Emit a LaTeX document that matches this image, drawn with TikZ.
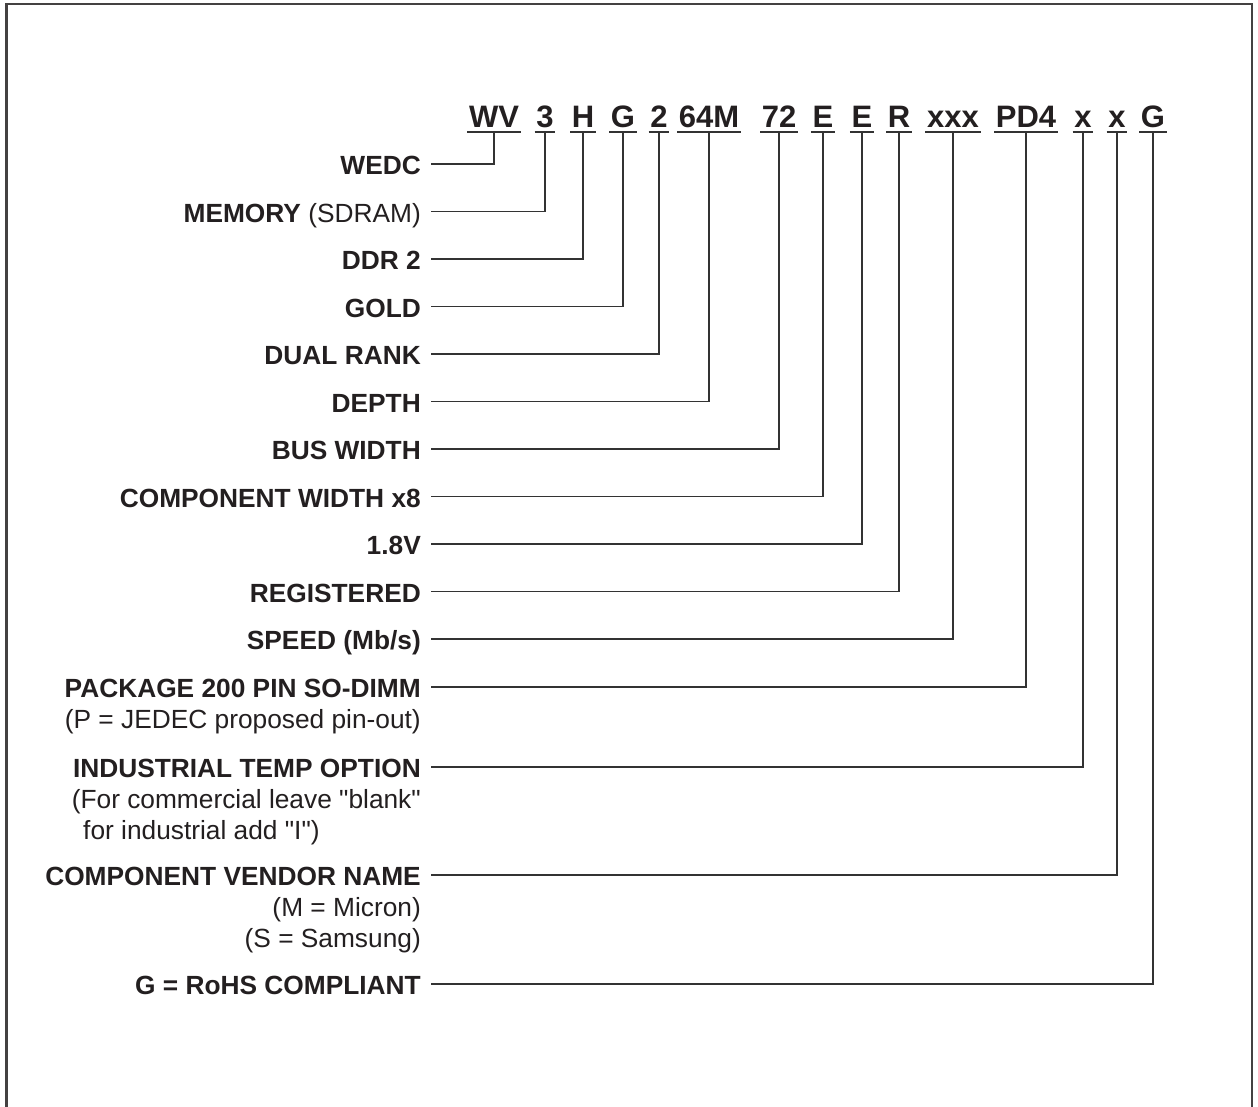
\documentclass[tikz,border=0pt]{standalone}
\usepackage{fontspec}
\setmainfont{Liberation Sans}
\definecolor{ink}{HTML}{231F20}
\definecolor{wirec}{HTML}{333333}
\begin{document}
\begin{tikzpicture}[x=1pt,y=-1pt,
  code/.style={anchor=base, inner xsep=1.5pt, inner ysep=0pt, font=\fontsize{31}{36}\selectfont\bfseries, text=ink},
  lab/.style={anchor=base east, inner sep=0pt, font=\fontsize{26.3}{31}\selectfont\bfseries, text=ink},
  sub/.style={anchor=base east, inner sep=0pt, font=\fontsize{26.3}{31}\selectfont, text=ink},
  subw/.style={anchor=base west, inner sep=0pt, font=\fontsize{26.3}{31}\selectfont, text=ink},
  wire/.style={draw=wirec, line width=1.5pt},
  uline/.style={draw=wirec, line width=1.6pt},
  frame/.style={draw=ink!85, line width=2.2pt}]
\useasboundingbox (0,0) rectangle (1258,1106);
\draw[frame] (6.5,1112) -- (6.5,4) -- (1252,4) -- (1252,1112);

% code letters
\foreach \i/\x/\t in {1/494/WV,2/545/3,3/583/H,4/623/G,5/659/2,6/709/64M,7/779/72,8/823/E,9/862/E,10/899/R,11/953/xxx,12/1026/PD4,13/1083/x,14/1117/x,15/1153/G}{
  \node[code] (c\i) at (\x,127) {\t};
  \draw[uline] ([yshift=-5pt]c\i.base west) -- ([yshift=-5pt]c\i.base east);
  \coordinate (u\i) at ([yshift=-5pt]c\i.base);
}

% labels
\node[lab] (l1) at (421,174.5) {WEDC};
\node[lab] (l2) at (421,222) {MEMORY {\mdseries (SDRAM)}};
\node[lab] (l3) at (421,269.5) {DDR 2};
\node[lab] (l4) at (421,317) {GOLD};
\node[lab] (l5) at (421,364.5) {DUAL RANK};
\node[lab] (l6) at (421,412) {DEPTH};
\node[lab] (l7) at (421,459.5) {BUS WIDTH};
\node[lab] (l8) at (421,507) {COMPONENT WIDTH x8};
\node[lab] (l9) at (421,554.5) {1.8V};
\node[lab] (l10) at (421,602) {REGISTERED};
\node[lab] (l11) at (421,649.5) {SPEED (Mb/s)};
\node[lab] (l12) at (421,697.5) {PACKAGE 200 PIN SO-DIMM};
\node[sub] (s12) at ([yshift=-31pt]l12.base east) {(P = JEDEC proposed pin-out)};
\node[lab] (l13) at (421,777.5) {INDUSTRIAL TEMP OPTION};
\node[sub] (s13a) at ([yshift=-31pt]l13.base east) {(For commercial leave \textquotedbl blank\textquotedbl};
\node[subw] (s13b) at (83,839.5) {for industrial add \textquotedbl I\textquotedbl)};
\node[lab] (l14) at (421,885.5) {COMPONENT VENDOR NAME};
\node[sub] (s14a) at ([yshift=-31pt]l14.base east) {(M = Micron)};
\node[sub] (s14b) at ([yshift=-62pt]l14.base east) {(S = Samsung)};
\node[lab] (l15) at (421,994.5) {G = RoHS COMPLIANT};

% connectors
\foreach \i in {1,...,15}{
  \draw[wire] ([xshift=10pt,yshift=10.5pt]l\i.base east) -| (u\i);
}
\end{tikzpicture}
\end{document}
